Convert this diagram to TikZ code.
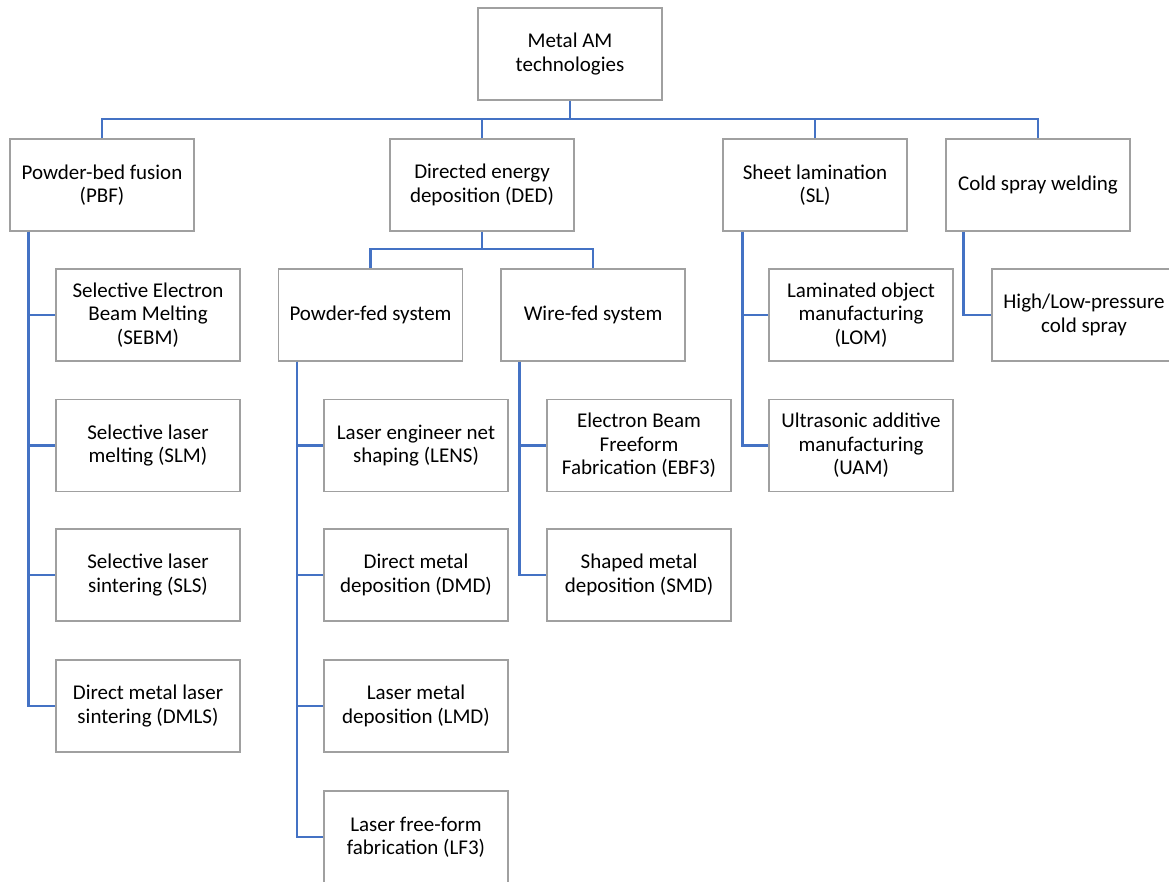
\documentclass[tikz,border=0pt]{standalone}
\usepackage{fontspec}
\setmainfont{Carlito}
\usetikzlibrary{calc}
\definecolor{linkblue}{HTML}{4472C4}
\definecolor{boxgray}{HTML}{A0A0A0}
\begin{document}
\begin{tikzpicture}[x=1pt,y=-1pt,
  box/.style={draw=boxgray,line width=1.3pt,fill=white,rectangle,minimum width=184pt,minimum height=92pt,
    inner sep=2pt,align=center,font=\fontsize{21}{23.5}\selectfont,text=black},
  link/.style={draw=linkblue,line width=2.6pt}]
\useasboundingbox (0,0) rectangle (1169,881);
\clip (0,0) rectangle (1169,881);
% nodes
\node[box] (root) at (570,54) {Metal AM\\technologies};
\node[box] (pbf) at (102,185) {Powder-bed fusion\\(PBF)};
\node[box] (ded) at (482,185) {Directed energy\\deposition (DED)};
\node[box] (sl) at (815,185) {Sheet lamination\\(SL)};
\node[box] (csw) at (1038,185) {Cold spray welding};
\node[box] (sebm) at (148,315) {Selective Electron\\Beam Melting\\(SEBM)};
\node[box] (slm) at (148,445.5) {Selective laser\\melting (SLM)};
\node[box] (sls) at (148,575) {Selective laser\\sintering (SLS)};
\node[box] (dmls) at (148,706) {Direct metal laser\\sintering (DMLS)};
\node[box] (powder) at (370.5,315) {Powder-fed system};
\node[box] (wire) at (593,315) {Wire-fed system};
\node[box] (lens) at (416,445.5) {Laser engineer net\\shaping (LENS)};
\node[box] (dmd) at (416,575) {Direct metal\\deposition (DMD)};
\node[box] (lmd) at (416,706) {Laser metal\\deposition (LMD)};
\node[box] (lf3) at (416,837) {Laser free-form\\fabrication (LF3)};
\node[box] (ebf) at (639,445.5) {Electron Beam\\Freeform\\Fabrication (EBF3)};
\node[box] (smd) at (639,575) {Shaped metal\\deposition (SMD)};
\node[box] (lom) at (861,315) {Laminated object\\manufacturing\\(LOM)};
\node[box] (uam) at (861,445.5) {Ultrasonic additive\\manufacturing\\(UAM)};
\node[box] (hl) at (1084,315) {High/Low-pressure\\cold spray};
% top bus
\coordinate (bus) at (570,119);
\draw[link] (root.south) -- (bus);
\draw[link] (pbf.north) |- (bus);
\draw[link] (ded.north) |- (bus);
\draw[link] (sl.north) |- (bus);
\draw[link] (csw.north) |- (bus);
% DED bus
\coordinate (dbus) at (482,249);
\draw[link] (ded.south) -- (dbus);
\draw[link] (powder.north) |- (dbus);
\draw[link] (wire.north) |- (dbus);
% trunks
\coordinate (tp) at ($(pbf.south west)+(19,0)$);
\draw[link] (tp) |- (sebm.west);
\draw[link] (tp) |- (slm.west);
\draw[link] (tp) |- (sls.west);
\draw[link] (tp) |- (dmls.west);
\coordinate (tpw) at ($(powder.south west)+(19,0)$);
\draw[link] (tpw) |- (lens.west);
\draw[link] (tpw) |- (dmd.west);
\draw[link] (tpw) |- (lmd.west);
\draw[link] (tpw) |- (lf3.west);
\coordinate (tw) at ($(wire.south west)+(19,0)$);
\draw[link] (tw) |- (ebf.west);
\draw[link] (tw) |- (smd.west);
\coordinate (ts) at ($(sl.south west)+(20,0)$);
\draw[link] (ts) |- (lom.west);
\draw[link] (ts) |- (uam.west);
\coordinate (tc) at ($(csw.south west)+(18,0)$);
\draw[link] (tc) |- (hl.west);
\end{tikzpicture}
\end{document}
